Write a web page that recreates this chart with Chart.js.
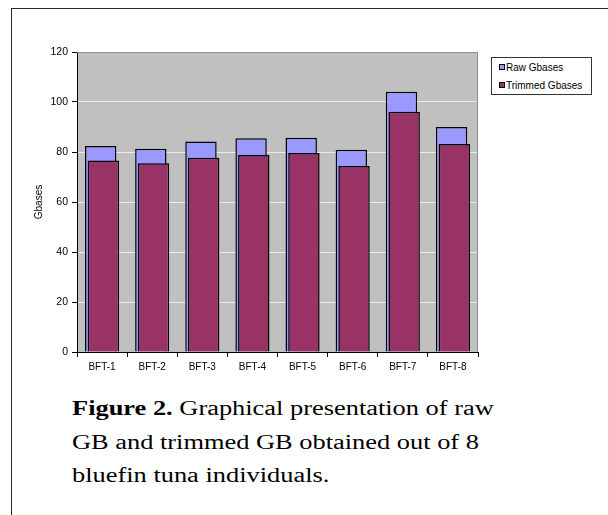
<!DOCTYPE html>
<html>
<head>
<meta charset="utf-8">
<script src="https://cdn.jsdelivr.net/npm/chart.js@4/dist/chart.umd.min.js"></script>
<style>
  html, body { margin: 0; padding: 0; background: #fff; overflow: hidden; }
  #wrap { position: relative; width: 608px; height: 515px; }
  #frame { position: absolute; left: 11px; top: 8px; width: 700px; height: 600px;
           border-left: 1px solid #2a2a2a; border-top: 1px solid #2a2a2a; }
  #chartBox { position: absolute; left: 0; top: 0; width: 608px; height: 380px; }
  #legend { position: absolute; left: 491px; top: 57px; width: 99px; height: 36px;
            border: 1px solid #333; background: #fff;
            font: 10px "Liberation Sans", Arial, sans-serif; color: #000; }
  #legend .item { position: absolute; left: 7px; height: 12px; line-height: 12px; white-space: nowrap; }
  #legend .sw { display: inline-block; width: 4px; height: 4px; border: 1px solid #000;
                vertical-align: 1px; margin-right: 1px; }
  #caption { position: absolute; left: 72px; top: 392px; width: 420px; white-space: nowrap;
             font: 20px "Liberation Serif", "Times New Roman", serif; line-height: 33.5px; color: #000;
             transform: scaleX(1.32); transform-origin: 0 0; }
</style>
</head>
<body>
<div id="wrap">
  <div id="frame"></div>
  <div id="chartBox"><canvas id="chart" width="608" height="380"></canvas></div>
  <div id="legend"></div>
  <div id="caption"><b>Figure 2.</b> Graphical presentation of raw<br>GB and trimmed GB obtained out of 8<br>bluefin tuna individuals.</div>
</div>
<script>
// data
const categories = ['BFT-1', 'BFT-2', 'BFT-3', 'BFT-4', 'BFT-5', 'BFT-6', 'BFT-7', 'BFT-8'];
const rawGbases = [82.4, 81.3, 84.2, 85.5, 85.7, 80.9, 104.1, 90.0];
const trimmedGbases = [76.6, 75.5, 77.7, 78.8, 79.6, 74.4, 96.1, 83.2];
const seriesNames = ['Raw Gbases', 'Trimmed Gbases'];
const seriesColors = ['#9999ff', '#993366'];
const yTicks = [0, 20, 40, 60, 80, 100, 120];

const FONT = '"Liberation Sans", Arial, sans-serif';

// grey plot area + grey top/right edge like the Excel chart
const plotArea = {
  id: 'plotArea',
  beforeDraw(chart) {
    const { ctx, chartArea: a } = chart;
    ctx.save();
    ctx.fillStyle = '#c0c0c0';
    ctx.fillRect(a.left, a.top, a.right - a.left, a.bottom - a.top);
    ctx.restore();
  },
  // draw datasets first-to-last so the trimmed bars sit in front of the raw ones
  beforeDatasetsDraw(chart) {
    for (let i = 0; i < chart.data.datasets.length; i++) {
      chart.getDatasetMeta(i).controller.draw();
    }
    return false;
  },
  afterDraw(chart) {
    const { ctx, chartArea: a } = chart;
    ctx.save();
    ctx.strokeStyle = '#8c8c8c';
    ctx.lineWidth = 1;
    ctx.beginPath();
    ctx.moveTo(a.left, a.top + 0.5);
    ctx.lineTo(a.right - 0.5, a.top + 0.5);
    ctx.lineTo(a.right - 0.5, a.bottom);
    ctx.stroke();
    ctx.restore();
  }
};

const ctx = document.getElementById('chart').getContext('2d');
const chart = new Chart(ctx, {
  type: 'bar',
  data: {
    labels: categories,
    datasets: [
      { label: seriesNames[0], data: rawGbases, backgroundColor: seriesColors[0] },
      { label: seriesNames[1], data: trimmedGbases, backgroundColor: seriesColors[1] }
    ]
  },
  options: {
    responsive: false,
    animation: false,
    layout: { padding: { left: 0, top: 52, right: 130, bottom: 0 } },
    datasets: {
      bar: {
        categoryPercentage: 0.108,
        barPercentage: 11.6,
        borderColor: '#000',
        borderWidth: 1.5
      }
    },
    plugins: {
      legend: { display: false },
      tooltip: { enabled: false }
    },
    scales: {
      x: {
        grid: { offset: true, drawOnChartArea: false, color: '#000', tickColor: '#000', tickLength: 5 },
        border: { display: true, color: '#000', width: 1 },
        ticks: { color: '#000', font: { family: FONT, size: 10 }, padding: 4, maxRotation: 0 },
        afterFit(scale) { scale.height = 28; }
      },
      y: {
        min: 0,
        max: 120,
        afterBuildTicks(scale) { scale.ticks = yTicks.map(v => ({ value: v })); },
        grid: { color: '#ececec', tickColor: '#000', tickLength: 5, lineWidth: 1 },
        border: { display: true, color: '#000', width: 1 },
        ticks: { color: '#000', font: { family: FONT, size: 10.5 }, padding: 4 },
        title: { display: true, text: 'Gbases', color: '#000', font: { family: FONT, size: 10 }, padding: { top: 33, bottom: 0 } },
        afterFit(scale) { scale.width = 77; }
      }
    }
  },
  plugins: [plotArea]
});

// legend built from the dataset names
const legend = document.getElementById('legend');
seriesNames.forEach((name, i) => {
  const item = document.createElement('div');
  item.className = 'item';
  item.style.top = (4 + i * 18) + 'px';
  item.innerHTML = '<span class="sw" style="background:' + seriesColors[i] + '"></span>' + name;
  legend.appendChild(item);
});
</script>
</body>
</html>
